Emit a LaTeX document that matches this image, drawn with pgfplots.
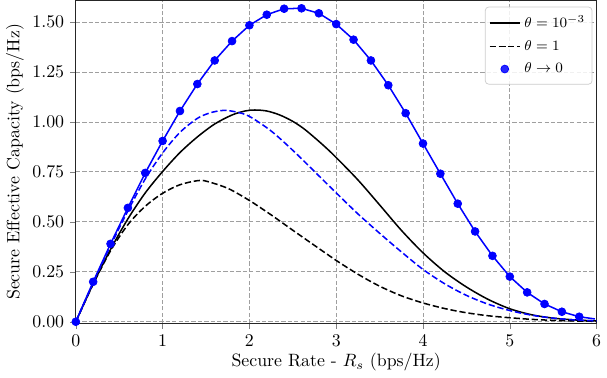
\documentclass[border=0pt]{standalone}
\usepackage{pgfplots}
\pgfplotsset{compat=1.18}
\definecolor{pblue}{RGB}{0,0,255}
\begin{document}
\begin{tikzpicture}
\begin{axis}[
  scale only axis,
  width=292pt, height=181pt,
  xmin=0, xmax=6,
  ymin=-0.008, ymax=1.608,
  xtick={0,1,2,3,4,5,6},
  ytick={0,0.25,0.5,0.75,1,1.25,1.5},
  yticklabel style={/pgf/number format/.cd, fixed, fixed zerofill, precision=2},
  tick align=outside,
  xtick pos=bottom, ytick pos=left,
  major tick length=3pt,
  grid=major,
  major grid style={gray!75, dash pattern=on 2.4pt off 1.2pt, line width=0.5pt},
  axis line style={black!85, line width=0.6pt},
  xlabel={Secure Rate - $R_s$ (bps/Hz)},
  ylabel={Secure Effective Capacity (bps/Hz)},
  xlabel style={yshift=3pt},
  ylabel style={yshift=-2pt},
  legend style={at={(0.992,0.981)}, anchor=north east, draw=gray!40, rounded corners=2pt, fill=white, fill opacity=0.85, text opacity=1, row sep=1.5pt, font=\footnotesize, inner xsep=2pt, inner ysep=3pt},
  legend cell align=left,
]
% theta = 1e-3 (black solid)
\addplot[black, line width=0.85pt, smooth] coordinates {
(0,0) (0.2,0.19) (0.4,0.362) (0.6,0.515) (0.8,0.645) (1.0,0.752) (1.2,0.847) (1.4,0.925)
(1.6,0.99) (1.8,1.035) (1.95,1.055) (2.06,1.06) (2.2,1.055) (2.35,1.035) (2.5,1.003) (2.625,0.967) (2.75,0.922)
(2.875,0.874) (3.0,0.822) (3.25,0.71) (3.5,0.585) (3.75,0.458) (4.0,0.345) (4.25,0.25)
(4.5,0.174) (4.75,0.112) (5.0,0.065) (5.25,0.035) (5.5,0.018) (5.75,0.009) (6.0,0.004)
};
\addlegendentry{$\theta=10^{-3}$}
% theta = 1 (black dashed)
\addplot[black, line width=0.85pt, dash pattern=on 3.5pt off 1.6pt, smooth] coordinates {
(0,0) (0.2,0.188) (0.4,0.355) (0.6,0.486) (0.8,0.578) (1.0,0.643) (1.2,0.686) (1.4,0.706)
(1.5,0.704) (1.75,0.668) (2.0,0.607) (2.25,0.535) (2.5,0.458) (2.75,0.382) (3.0,0.307)
(3.25,0.238) (3.5,0.178) (3.75,0.13) (4.0,0.094) (4.25,0.066) (4.5,0.045) (4.75,0.03)
(5.0,0.02) (5.25,0.012) (5.5,0.007) (5.75,0.004) (6.0,0.002)
};
\addlegendentry{$\theta=1$}
% theta -> 0 (blue markers)
\addplot[only marks, mark=*, mark size=2.2pt, pblue] coordinates {
(0,0) (0.2,0.20) (0.4,0.39) (0.6,0.57) (0.8,0.745) (1.0,0.905) (1.2,1.055) (1.4,1.19)
(1.6,1.308) (1.8,1.405) (2.0,1.484) (2.2,1.537) (2.4,1.567) (2.6,1.569) (2.8,1.544)
(3.0,1.49) (3.2,1.412) (3.4,1.308) (3.6,1.184) (3.8,1.044) (4.0,0.892) (4.2,0.741)
(4.4,0.591) (4.6,0.452) (4.8,0.330) (5.0,0.226) (5.2,0.147) (5.4,0.089) (5.6,0.050)
(5.8,0.025)
};
\addlegendentry{$\theta\rightarrow 0$}
% blue solid line through markers
\addplot[pblue, line width=0.85pt, forget plot] coordinates {
(0,0) (0.2,0.20) (0.4,0.39) (0.6,0.57) (0.8,0.745) (1.0,0.905) (1.2,1.055) (1.4,1.19)
(1.6,1.308) (1.8,1.405) (2.0,1.484) (2.2,1.537) (2.4,1.567) (2.6,1.569) (2.8,1.544)
(3.0,1.49) (3.2,1.412) (3.4,1.308) (3.6,1.184) (3.8,1.044) (4.0,0.892) (4.2,0.741)
(4.4,0.591) (4.6,0.452) (4.8,0.330) (5.0,0.226) (5.2,0.147) (5.4,0.089) (5.6,0.050)
(5.8,0.025) (5.98,0.014)
};
% blue dashed
\addplot[pblue, line width=0.85pt, dash pattern=on 3.5pt off 1.6pt, smooth, forget plot] coordinates {
(0,0) (0.2,0.195) (0.4,0.38) (0.6,0.555) (0.8,0.715) (1.0,0.845) (1.2,0.948) (1.4,1.018)
(1.55,1.046) (1.7,1.058) (1.85,1.05) (2.0,1.028) (2.25,0.955) (2.5,0.858) (2.75,0.752)
(3.0,0.645) (3.25,0.54) (3.5,0.443) (3.75,0.35) (4.0,0.262) (4.25,0.19) (4.5,0.132)
(4.75,0.088) (5.0,0.056) (5.25,0.033) (5.5,0.018) (5.75,0.009) (6.0,0.004)
};
\end{axis}
\end{tikzpicture}
\end{document}
